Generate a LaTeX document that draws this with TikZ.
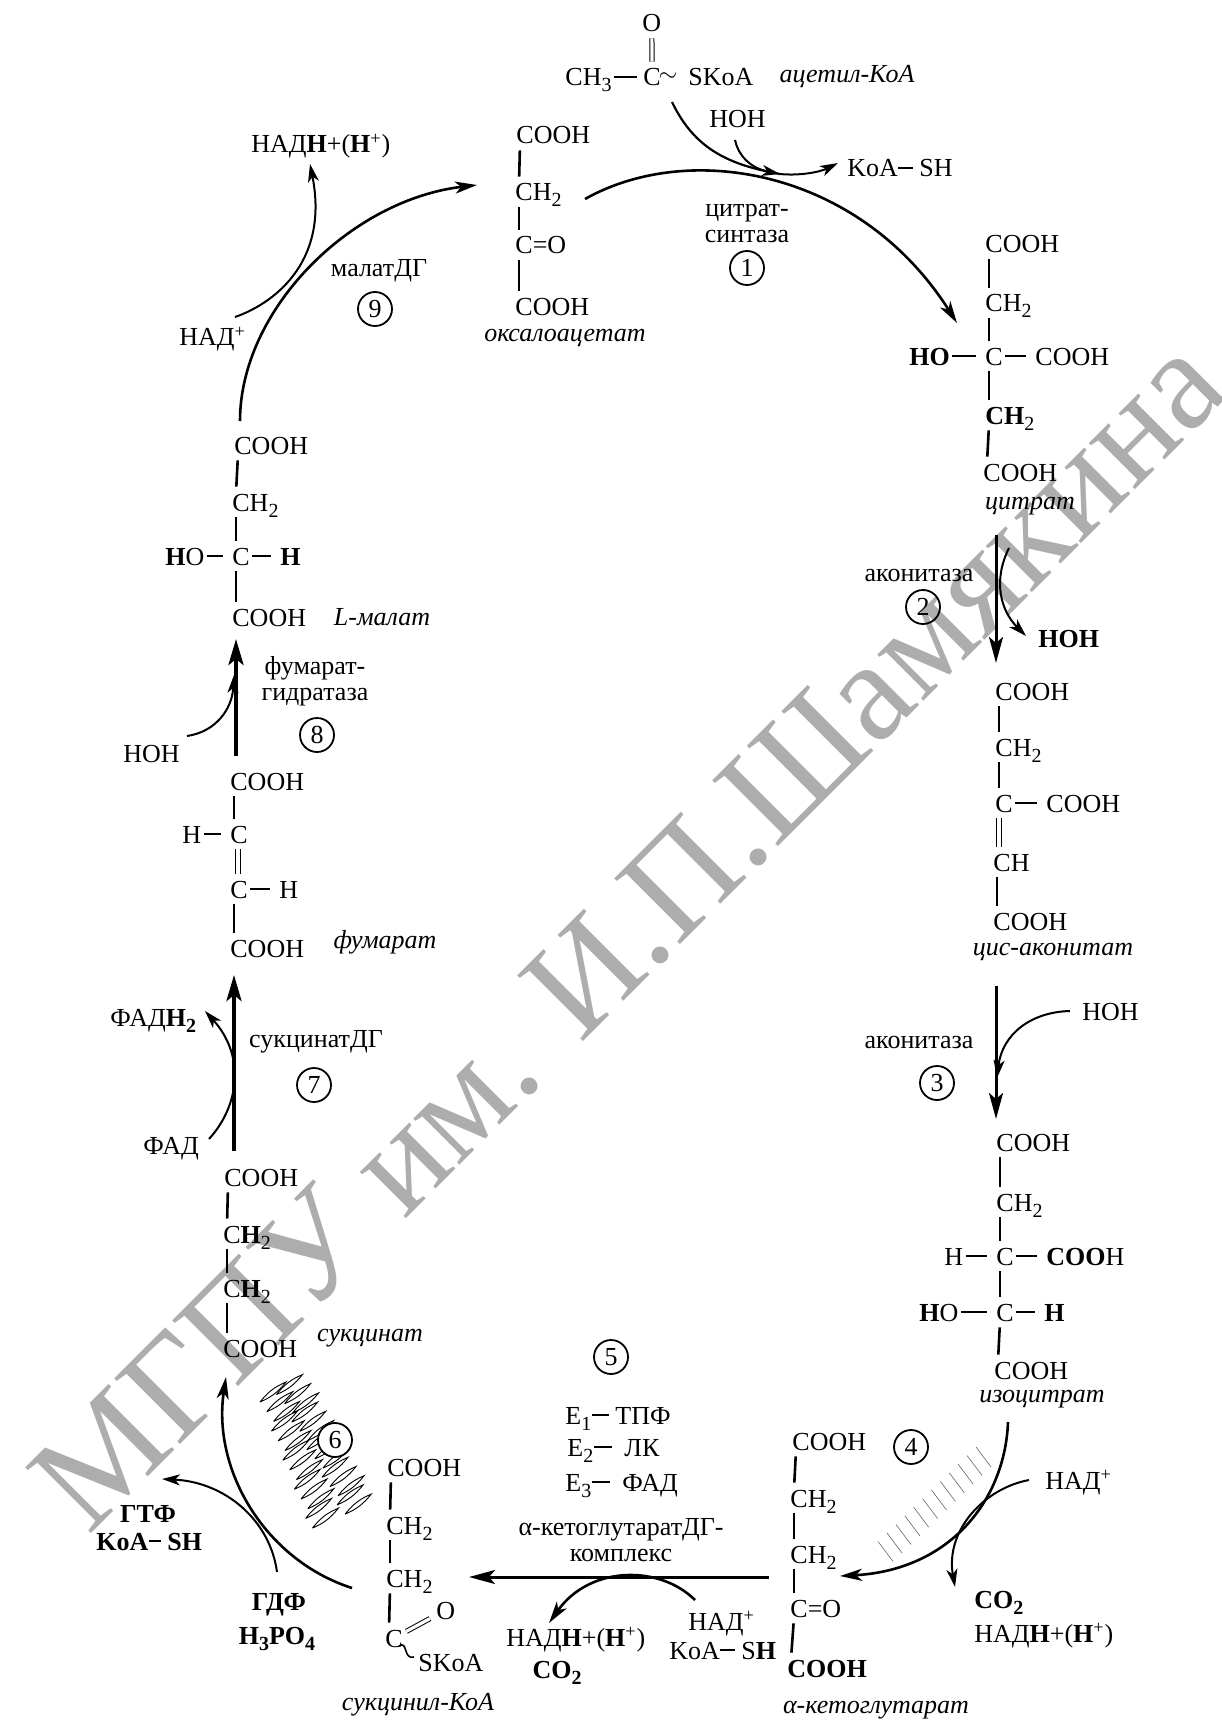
\documentclass[tikz,border=0pt]{standalone}
\usepackage{fontspec}
\setmainfont{Liberation Serif}
\usetikzlibrary{arrows.meta}
\newcommand{\chemfont}{\fontsize{13}{13}\selectfont}
\newcommand{\subidx}[1]{\raisebox{-3pt}{\fontsize{10}{10}\selectfont #1}}
\begin{document}
\begin{tikzpicture}[x=0.5pt,y=-0.5pt,font=\chemfont,
   chem/.style={anchor=west,inner sep=0pt,text height=9pt,text depth=0pt},
   lab/.style={inner sep=0pt,font=\chemfont\itshape},
   enz/.style={inner sep=0pt,align=center},
   num/.style={draw,circle,minimum size=17pt,inner sep=0pt,line width=0.9pt},
   bond/.style={line width=1.3pt,shorten <=3pt,shorten >=3pt},
   hbond/.style={line width=1.3pt,shorten <=1pt,shorten >=4.5pt},
   dbond/.style={double,double distance=1.6pt,line width=0.5pt,shorten <=3pt,shorten >=3pt},
   arc/.style={line width=1.3pt,-{Stealth[length=11pt,width=6pt,inset=3pt]}},
   side/.style={line width=1pt,-{Stealth[length=9pt,width=5.5pt,inset=2.5pt]}},
   rxn/.style={line width=1.5pt,-{Stealth[length=13pt,width=7pt,inset=3pt]}},
   rxnb/.style={line width=2pt,-{Stealth[length=13pt,width=7.5pt,inset=3pt]}},
   hatchb/.style={line width=0.45pt},
   hatchg/.style={line width=0.3pt,black!60}]
  \useasboundingbox (0,0) rectangle (1221,1722);
  \node[rotate=45,anchor=base,text=black!32,inner sep=0pt,font=\fontsize{71}{71}\selectfont] (wm) at (660,965) {МГПУ им. И.П.Шамякина};

  % acetyl-CoA
  \node[chem] (acO) at (642,23) {O};
  \node[chem] (acM) at (565,77) {CH\subidx{3}};
  \node[chem] (acC) at (643,77) {C};
  \node[inner sep=0pt] (acT) at (668,77) {$\sim$};
  \node[chem] (acS) at (688,77) {SKoA};
  \node[lab] (acL) at (847,77) {ацетил-КоА};
  \node[chem] (hoh1) at (709,119) {HOH};
  \node[chem] (koa1) at (847,168) {KoA};
  \node[chem] (koa1s) at (919,168) {SH};
  \draw[hbond,shorten >=3pt] (acM) -- (acC);
  \draw[dbond] (acO) -- (acC);
  \draw[hbond,shorten <=0pt,shorten >=3pt] (koa1) -- (koa1s);

  % oxaloacetate
  \node[chem] (oa1) at (516,135) {COOH};
  \node[chem] (oa2) at (515,192) {CH\subidx{2}};
  \node[chem] (oa3) at (515,245) {C=O};
  \node[chem] (oa4) at (515,306) {COOH};
  \node[lab] (oaL) at (565,338) {оксалоацетат};

  % citrate
  \node[chem] (ct1) at (985,244) {COOH};
  \node[chem] (ct2) at (985,303) {CH\subidx{2}};
  \node[chem] (ctC) at (985,356) {C};
  \node[chem] (ctO) at (909,356) {\textbf{HO}};
  \node[chem] (ctR) at (1035,356) {COOH};
  \node[chem] (ct3) at (985,415) {\textbf{CH}\subidx{2}};
  \node[chem] (ct4) at (983,472) {COOH};
  \node[lab] (ctL) at (1030,506) {цитрат};
  \draw[hbond] (ctO) -- (ctC);
  \draw[hbond] (ctC) -- (ctR);

  % cis-aconitate
  \node[chem] (ca1) at (995,691) {COOH};
  \node[chem] (ca2) at (995,747) {CH\subidx{2}};
  \node[chem] (caC) at (995,803) {C};
  \node[chem] (caR) at (1046,803) {COOH};
  \node[chem] (ca3) at (993,862) {CH};
  \node[chem] (ca4) at (993,921) {COOH};
  \node[lab] (caL) at (1053,952) {цис-аконитат};
  \draw[hbond] (caC) -- (caR);
  \draw[dbond] ([xshift=2pt]caC.south west) -- ([xshift=3pt]ca3.north west);

  % isocitrate
  \node[chem] (ic1) at (996,1142) {COOH};
  \node[chem] (ic2) at (996,1202) {CH\subidx{2}};
  \node[chem] (icC) at (996,1256) {C};
  \node[chem] (icH) at (944,1256) {H};
  \node[chem] (icR) at (1046,1256) {\textbf{COO}H};
  \node[chem] (icD) at (996,1312) {C};
  \node[chem] (icO) at (919,1312) {\textbf{H}O};
  \node[chem] (icE) at (1044,1312) {\textbf{H}};
  \node[chem] (ic3) at (994,1370) {COOH};
  \node[lab] (icL) at (1042,1399) {изоцитрат};
  \draw[hbond] (icH) -- (icC);
  \draw[hbond] (icC) -- (icR);
  \draw[hbond] (icO) -- (icD);
  \draw[hbond] (icD) -- (icE);

  % alpha-ketoglutarate
  \node[chem] (kg1) at (792,1441) {COOH};
  \node[chem] (kg2) at (790,1498) {CH\subidx{2}};
  \node[chem] (kg3) at (790,1554) {CH\subidx{2}};
  \node[chem] (kg4) at (790,1608) {C=O};
  \node[chem] (kg5) at (787,1668) {\textbf{COOH}};
  \node[lab] (kgL) at (876,1710) {α-кетоглутарат};

  % succinyl-CoA
  \node[chem] (sc1) at (387,1467) {COOH};
  \node[chem] (sc2) at (386,1525) {CH\subidx{2}};
  \node[chem] (sc3) at (386,1578) {CH\subidx{2}};
  \node[chem] (scC) at (385,1638) {C};
  \node[chem] (scO) at (436,1610) {O};
  \node[chem] (scS) at (418,1662) {SKoA};
  \node[lab] (scL) at (418,1705) {сукцинил-КоА};
  \coordinate (scw1) at (399,1646);
  \coordinate (scw2) at (414,1657);
  \draw[line width=0.8pt] (scw1) .. controls (408,1640) and (403,1660) .. (scw2);
  \draw[dbond,shorten <=7pt,shorten >=9pt] (scC.center) -- (scO.center);

  % succinate
  \node[chem] (su1) at (224,1177) {COOH};
  \node[chem] (su2) at (223,1234) {C\textbf{H}\subidx{2}};
  \node[chem] (su3) at (223,1288) {C\textbf{H}\subidx{2}};
  \node[chem] (su4) at (223,1348) {COOH};
  \node[lab] (suL) at (370,1338) {сукцинат};

  % fumarate
  \node[chem] (fu1) at (230,781) {COOH};
  \node[chem] (fuC) at (230,834) {C};
  \node[chem] (fuH) at (182,834) {H};
  \node[chem] (fuD) at (230,889) {C};
  \node[chem] (fuE) at (279,889) {H};
  \node[chem] (fu2) at (230,948) {COOH};
  \node[lab] (fuL) at (385,942) {фумарат};
  \draw[hbond] (fuH) -- (fuC);
  \draw[hbond] (fuD) -- (fuE);
  \draw[dbond] ([xshift=4pt]fuC.south west) -- ([xshift=4pt]fuD.north west);

  % malate
  \node[chem] (ma1) at (234,445) {COOH};
  \node[chem] (ma2) at (232,502) {CH\subidx{2}};
  \node[chem] (maC) at (232,556) {C};
  \node[chem] (maO) at (165,556) {\textbf{H}O};
  \node[chem] (maH) at (280,556) {\textbf{H}};
  \node[chem] (ma3) at (232,617) {COOH};
  \node[lab] (maL) at (382,617) {L-малат};
  \draw[hbond] (maO) -- (maC);
  \draw[hbond] (maC) -- (maH);

  \foreach \a/\b in {oa1/oa2,oa2/oa3,oa3/oa4,ct1/ct2,ct2/ctC,ctC/ct3,ct3/ct4,ca1/ca2,ca2/caC,ca3/ca4,
      ic1/ic2,ic2/icC,icC/icD,icD/ic3,kg1/kg2,kg2/kg3,kg3/kg4,kg4/kg5,sc1/sc2,sc2/sc3,sc3/scC,
      su1/su2,su2/su3,su3/su4,fu1/fuC,fuD/fu2,ma1/ma2,ma2/maC,maC/ma3}
    \draw[bond] ([xshift=2pt]\a.south west) -- ([xshift=2pt]\b.north west);

  % side products
  \node[chem] (nh9) at (251,144) {НАД\textbf{Н}+(\textbf{Н}\textsuperscript{+})};
  \node[chem] (na9) at (179,337) {НАД\textsuperscript{+}};
  \node[chem] (hoh2) at (1038,638) {\textbf{HOH}};
  \node[chem] (hoh3) at (1082,1011) {HOH};
  \node[chem] (na4) at (1045,1480) {НАД\textsuperscript{+}};
  \node[chem] (co4) at (974,1599) {\textbf{CO\subidx{2}}};
  \node[chem] (nh4) at (974,1633) {НАД\textbf{Н}+(\textbf{Н}\textsuperscript{+})};
  \node[chem] (na5) at (688,1621) {НАД\textsuperscript{+}};
  \node[chem] (koa5) at (669,1650) {KoA};
  \node[chem] (koa5s) at (741,1650) {S\textbf{H}};
  \node[chem] (nh5) at (506,1637) {НАД\textbf{Н}+(\textbf{Н}\textsuperscript{+})};
  \node[inner sep=0pt,text height=9pt,text depth=0pt] (co5) at (557,1669) {\textbf{CO\subidx{2}}};
  \node[inner sep=0pt,text height=9pt,text depth=0pt] (gtp) at (148,1513) {\textbf{ГТФ}};
  \node[chem] (koa6) at (96,1541) {\textbf{KoA}};
  \node[chem] (koa6s) at (167,1541) {\textbf{SH}};
  \node[inner sep=0pt,text height=9pt,text depth=0pt] (gdp) at (279,1601) {\textbf{ГДФ}};
  \node[inner sep=0pt,text height=9pt,text depth=0pt] (hpo) at (277,1635) {\textbf{H\subidx{3}PO\subidx{4}}};
  \node[chem] (fh7) at (110,1017) {ФАД\textbf{H\subidx{2}}};
  \node[chem] (fa7) at (143,1145) {ФАД};
  \node[chem] (hoh8) at (123,753) {HOH};
  \draw[hbond,shorten <=0pt,shorten >=3pt] (koa5) -- (koa5s);
  \draw[hbond,shorten <=0pt,shorten >=3pt] (koa6) -- (koa6s);

  % enzymes
  \node[enz] (en1) at (747,224) {цитрат-\\[0pt]синтаза};
  \node[num] (c1) at (747,268) {1};
  \node[enz] (en2) at (919,575) {аконитаза};
  \node[num] (c2) at (923,607) {2};
  \node[enz] (en3) at (919,1042) {аконитаза};
  \node[num] (c3) at (937,1083) {3};
  \node[num] (c4) at (911,1447) {4};
  \node[num] (c5) at (611,1357) {5};
  \node[chem] (e1) at (565,1415) {E\subidx{1}};
  \node[chem] (e1c) at (615,1415) {ТПФ};
  \node[chem] (e2) at (567,1447) {E\subidx{2}};
  \node[chem] (e2c) at (624,1447) {ЛК};
  \node[chem] (e3) at (565,1482) {E\subidx{3}};
  \node[chem] (e3c) at (622,1482) {ФАД};
  \node[enz] (en5) at (621,1540) {α-кетоглутаратДГ-\\[0pt]комплекс};
  \node[enz] (en7) at (316,1042) {сукцинатДГ};
  \node[num] (c7) at (314,1085) {7};
  \node[enz] (en8) at (315,681) {фумарат-\\[0pt]гидратаза};
  \node[num] (c8) at (317,735) {8};
  \node[enz] (en9) at (379,271) {малатДГ};
  \node[num] (c9) at (375,309) {9};
  \draw[hbond,shorten <=0pt,shorten >=3pt] (e1) -- (e1c);
  \draw[hbond,shorten <=0pt,shorten >=6pt] (e2) -- (e2c);
  \draw[hbond,shorten <=0pt,shorten >=6pt] (e3) -- (e3c);

  % free ends of the arrows
  \coordinate (r1s) at (585,199);   \coordinate (r1e) at (957,323);
  \coordinate (a1s) at (672,102);   \coordinate (a1m) at (780,174);  \coordinate (a1e) at (838,163);
  \coordinate (h1s) at (735,140);
  \coordinate (r2s) at (996,535);   \coordinate (r2e) at (996,663);
  \coordinate (s2s) at (1009,548);  \coordinate (s2e) at (1026,636);
  \coordinate (r3s) at (996,986);   \coordinate (r3e) at (996,1119);
  \coordinate (s3s) at (1070,1011); \coordinate (s3e) at (997,1078);
  \coordinate (r4s) at (1008,1422); \coordinate (r4e) at (840,1576);
  \coordinate (s4s) at (1029,1480); \coordinate (s4e) at (955,1587);
  \coordinate (r5s) at (769,1577);  \coordinate (r5e) at (469,1577);
  \coordinate (s5s) at (695,1600);  \coordinate (s5e) at (549,1623);
  \coordinate (r6s) at (352,1588);  \coordinate (r6e) at (226,1377);
  \coordinate (s6s) at (277,1572);  \coordinate (s6e) at (162,1479);
  \coordinate (r7s) at (234,1151);  \coordinate (r7e) at (234,975);
  \coordinate (s7s) at (209,1139);  \coordinate (s7e) at (205,1011);
  \coordinate (r8s) at (236,756);   \coordinate (r8e) at (236,639);
  \coordinate (s8s) at (187,736);   \coordinate (s8e) at (234,675);
  \coordinate (r9s) at (240,421);   \coordinate (r9e) at (477,185);
  \coordinate (s9s) at (235,317);   \coordinate (s9e) at (310,164);

  \draw[arc] (r1s) .. controls (690,140) and (860,170) .. (r1e);
  \draw[line width=1.1pt] (a1s) .. controls (695,150) and (730,165) .. (a1m);
  \draw[side] (a1m) .. controls (800,176) and (820,172) .. (a1e);
  \draw[side] (h1s) .. controls (738,155) and (750,168) .. (a1m);
  \draw[rxn] (r2s) -- (r2e);
  \draw[side] (s2s) .. controls (993,580) and (1000,610) .. (s2e);
  \draw[rxn] (r3s) -- (r3e);
  \draw[side] (s3s) .. controls (1030,1012) and (1002,1035) .. (s3e);
  \draw[arc] (r4s) .. controls (1005,1500) and (950,1570) .. (r4e);
  \draw[side] (s4s) .. controls (985,1488) and (945,1530) .. (s4e);
  \draw[rxn] (r5s) -- (r5e);
  \draw[arc] (s5s) .. controls (660,1565) and (590,1565) .. (s5e);
  \draw[arc] (r6s) .. controls (265,1560) and (212,1470) .. (r6e);
  \draw[side] (s6s) .. controls (270,1520) and (225,1482) .. (s6e);
  \draw[rxnb] (r7s) -- (r7e);
  \draw[side] (s7s) .. controls (240,1105) and (245,1055) .. (s7e);
  \draw[rxnb] (r8s) -- (r8e);
  \draw[side] (s8s) .. controls (215,732) and (232,710) .. (s8e);
  \draw[arc] (r9s) .. controls (240,310) and (350,200) .. (r9e);
  \draw[side] (s9s) .. controls (270,305) and (330,265) .. (s9e);

  % shading next to steps 4 and 6
  \foreach \i in {0,...,11}
    \draw[hatchg] ({976-\i*8.9},{1447+\i*8.6}) -- ++(15,20);
  \foreach \i in {0,...,13}
    \foreach \t in {0,0.5}{
      \pgfmathsetmacro{\xs}{260+\i*3.8+\t*(33+\i*2.5)+mod(\i,3)*3}
      \pgfmathsetmacro{\ys}{1402+\i*9.7-\t*(15+\i*1)}
      \draw[hatchb] (\xs,\ys) to[bend left=14] ++(26,-20) to[bend left=14] (\xs,\ys);
    }
  \node[num,fill=white] (c6) at (335,1440) {6};
\end{tikzpicture}
\end{document}
